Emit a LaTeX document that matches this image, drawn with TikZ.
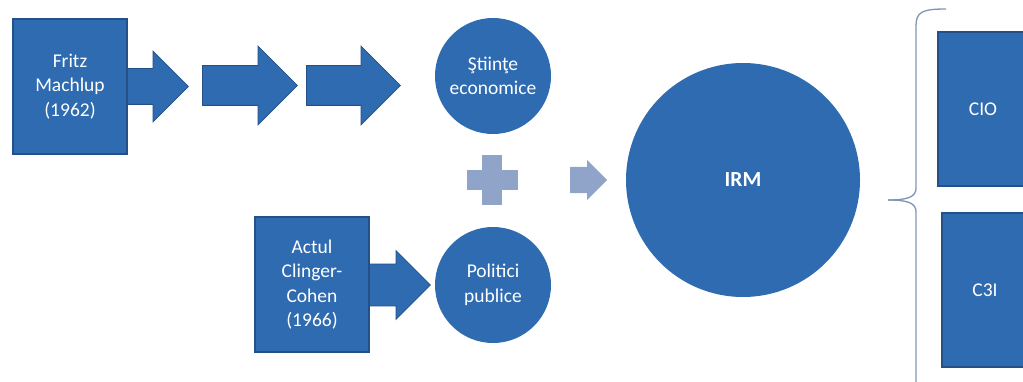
\documentclass[tikz,border=0pt]{standalone}
\usepackage{fontspec}
\setmainfont{Carlito}
\usetikzlibrary{shapes.arrows}
\definecolor{boxblue}{RGB}{47,107,176}
\definecolor{boxline}{RGB}{35,80,136}
\definecolor{paleblue}{RGB}{143,164,200}
\definecolor{braceblue}{RGB}{128,148,180}

\begin{document}
\begin{tikzpicture}
        [   x=1pt, y=-1pt,
            font=\fontsize{19.5}{24.5}\selectfont,
            BoxNode/.style=
            {rectangle, draw=boxline, fill=boxblue, text=white,
            line width=1.2pt, align=center,
            minimum width=114pt, minimum height=135pt},
            CircNode/.style=
            {circle, fill=boxblue, text=white, align=center,
            inner sep=0pt, minimum size=116pt},
            ArrNode/.style=
            {single arrow, draw=boxline, fill=boxblue,
            line width=0.8pt, inner xsep=0pt, anchor=tail},
            PaleArr/.style=
            {single arrow, fill=paleblue, inner xsep=0pt, anchor=tail}
        ]
            \useasboundingbox (0,0) rectangle (1023,382);
            \clip (0,0) rectangle (1023,382);

            % block arrows, drawn first so the boxes cover their tails
            \node[ArrNode, minimum height=88pt, minimum width=70pt,
                inner ysep=17.5pt, single arrow head extend=17.5pt]
                (ar1) at (100,86.5) {};
            \node[ArrNode, minimum height=95pt, minimum width=78pt,
                inner ysep=19.5pt, single arrow head extend=19.5pt]
                (ar2) at (202,85.5) {};
            \node[ArrNode, minimum height=94pt, minimum width=78pt,
                inner ysep=19.5pt, single arrow head extend=19.5pt]
                (ar3) at (306,85.5) {};
            \node[ArrNode, minimum height=90pt, minimum width=68pt,
                inner ysep=20.5pt, single arrow head extend=13.5pt]
                (ar4) at (340,285) {};
            \node[PaleArr, minimum height=37pt, minimum width=40pt,
                inner ysep=13pt, single arrow head extend=7pt]
                (ar5) at (570,180) {};

            \node[BoxNode] (fritz) at (70,86.5)
                {Fritz\\Machlup\\(1962)};
            \node[BoxNode] (actul) at (312,284.5)
                {Actul\\Clinger-\\Cohen\\(1966)};

            \node[CircNode] (stiinte) at (493,76)
                {Ştiinţe\\economice};
            \node[CircNode] (politici) at (493,285)
                {Politici\\publice};
            \node[CircNode, minimum size=234pt,
                font=\fontsize{21.5}{26}\selectfont\bfseries] (irm) at (743,180)
                {IRM};

            % plus sign
            \fill[paleblue] (467,170) rectangle (518,190);
            \fill[paleblue] (482,155) rectangle (502,205);

            % brace
            \draw[braceblue, line width=1.3pt]
                (946,9) .. controls (922,9) and (916,12) .. (916,26)
                -- (916,188) .. controls (916,197) and (908,200) .. (888,200);
            \draw[braceblue, line width=1.3pt]
                (888,200) .. controls (908,200) and (916,203) .. (916,212)
                -- (916,392);

            \node[BoxNode, minimum width=90pt, minimum height=154pt]
                (cio) at (983,109) {CIO};
            \node[BoxNode, minimum width=86pt, minimum height=154pt]
                (c3i) at (985,290) {C3I};
    \end{tikzpicture}
\end{document}
